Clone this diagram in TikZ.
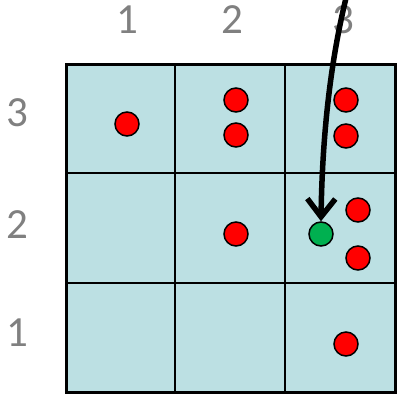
\documentclass[tikz,border=0pt]{standalone}
\usepackage{fontspec}
\setmainfont{Carlito}
\usetikzlibrary{arrows.meta}
\definecolor{cellblue}{RGB}{188,224,227}
\definecolor{labelgray}{RGB}{128,128,128}
\definecolor{dotred}{RGB}{255,0,0}
\definecolor{dotgreen}{RGB}{0,176,80}
\tikzset{
  axislabel/.style={text=labelgray, font=\fontsize{43}{50}\selectfont, inner sep=0pt},
  reddot/.style={circle, draw=black, line width=1.5pt, fill=dotred, minimum size=24pt, inner sep=0pt},
  greendot/.style={reddot, fill=dotgreen},
}
\begin{document}
\begin{tikzpicture}[x=1pt, y=-1pt]
\useasboundingbox (0,0) rectangle (398,394);
% grid
\fill[cellblue] (66,64) rectangle (395,392);
\foreach \gx in {175,285} \draw[line width=2pt] (\gx,64) -- (\gx,392);
\foreach \gy in {173,283} \draw[line width=2pt] (66,\gy) -- (395,\gy);
\draw[line width=3pt] (66,64) rectangle (395,392);
% labels
\foreach \lx/\lt in {127/1,232/2,343/3} \node[axislabel] (col\lt) at (\lx,20) {\lt};
\foreach \ly/\lt in {113/3,225/2,333/1} \node[axislabel] (row\lt) at (17,\ly) {\lt};
% points
\node[reddot] (p1) at (127,124) {};
\node[reddot] (p2) at (236,100) {};
\node[reddot] (p3) at (236,135) {};
\node[reddot] (p4) at (346,100) {};
\node[reddot] (p5) at (346,136) {};
\node[reddot] (p6) at (236,234) {};
\node[reddot] (p7) at (358,210) {};
\node[reddot] (p8) at (358,258) {};
\node[reddot] (p9) at (346,344) {};
\node[greendot] (query) at (321,234) {};
% arrow
\coordinate (start) at (347,-6);
\draw[line width=5.5pt, -{Straight Barb[length=18pt, width=28pt, line width=5.5pt]}]
  (start) .. controls (328,70) and (322,150) .. (query.north);
\end{tikzpicture}
\end{document}
